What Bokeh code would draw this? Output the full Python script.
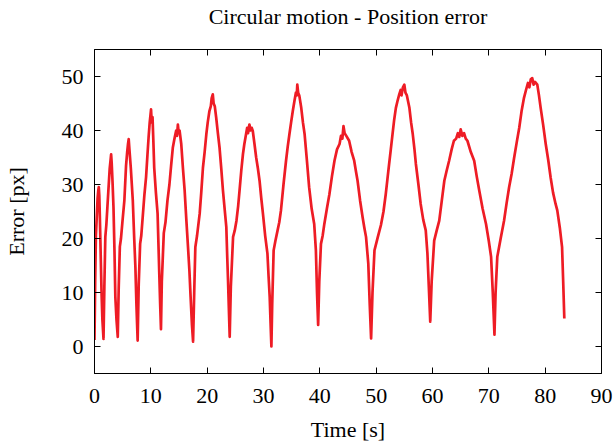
from bokeh.plotting import figure
from bokeh.models import LinearAxis, Range1d, FixedTicker
from bokeh.embed import file_html
from bokeh.resources import INLINE

title_text = "Circular motion - Position error"
x_label = "Time [s]"
y_label = "Error [px]"
x_ticks = [0, 10, 20, 30, 40, 50, 60, 70, 80, 90]
y_ticks = [0, 10, 20, 30, 40, 50]

time_s = [
    0.00, 0.12, 0.25, 0.40, 0.55, 0.68, 0.76, 0.85, 0.95, 1.10, 1.25, 1.40, 1.60,
    1.75, 1.92, 2.10, 2.30, 2.50, 2.70, 2.85, 2.95, 3.05, 3.20, 3.37, 3.55, 3.70, 3.90, 4.13,
    4.30, 4.50, 4.70, 4.95, 5.30, 5.60, 5.80, 5.95, 6.07, 6.20, 6.45, 6.80, 7.05, 7.26, 7.45, 7.66,
    7.85, 8.10, 8.30, 8.56, 8.85, 9.15, 9.40, 9.60, 9.80, 9.95, 10.04, 10.15, 10.30, 10.45, 10.60,
    10.90, 11.20, 11.35, 11.50, 11.65, 11.80,
    11.95, 12.30, 12.60, 12.95, 13.30, 13.60, 13.90, 14.20, 14.50, 14.65, 14.80, 14.95, 15.10,
    15.40, 15.70, 16.00, 16.30, 16.60, 16.85, 17.06, 17.30, 17.50,
    17.70, 17.90, 18.20, 18.67, 18.95, 19.25, 19.55, 19.85, 20.10, 20.40, 20.65, 20.80, 21.00,
    21.15, 21.35, 21.60, 21.90, 22.20, 22.50, 22.80, 23.10, 23.40, 23.55, 23.70, 23.85, 24.00,
    24.20, 24.60, 24.90, 25.20, 25.50, 25.75, 26.05, 26.35, 26.60, 26.90, 27.10, 27.25, 27.50,
    27.70, 27.90, 28.10, 28.40, 28.70, 29.00, 29.30, 29.60, 29.90, 30.30, 30.70, 30.90, 31.10,
    31.25, 31.40,
    31.55, 31.80, 32.10, 32.50, 32.80, 33.10, 33.55, 34.00, 34.30, 34.60, 34.90, 35.20, 35.50,
    35.75, 35.90, 36.00, 36.15, 36.35, 36.70, 37.00, 37.30, 37.70, 38.10, 38.55, 39.00, 39.30,
    39.50, 39.70,
    39.90, 40.20, 40.50, 40.80, 41.25, 41.70, 42.15, 42.60, 43.05, 43.50, 43.75, 44.00, 44.20,
    44.40, 44.70, 45.20, 45.65, 46.10, 46.40, 46.70, 47.15, 47.60, 47.90, 48.20, 48.60, 48.85,
    49.10,
    49.35, 49.70, 50.30, 50.85, 51.30, 51.70, 52.00, 52.30, 52.60, 52.90, 53.20, 53.50, 53.80,
    54.10, 54.35, 54.50, 54.75, 55.00, 55.20, 55.45, 55.90, 56.20, 56.50, 56.80, 57.05, 57.50,
    57.90, 58.35, 58.80, 59.10, 59.35, 59.60,
    59.85, 60.30, 60.75, 61.20, 61.65, 62.10, 62.50, 62.95, 63.40, 63.80, 64.20, 64.50, 64.75,
    65.00, 65.30, 65.60, 65.90, 66.20, 66.80, 67.40, 67.85, 68.30, 68.90, 69.50, 70.00, 70.40,
    70.70, 71.00,
    71.20, 71.50, 72.10, 72.70, 73.15, 73.60, 74.05, 74.50, 74.95, 75.40, 75.80, 76.25, 76.60,
    76.95, 77.20, 77.45, 77.70, 77.95, 78.20, 78.60, 78.90, 79.20, 79.65, 80.10, 80.55, 80.97,
    81.40, 81.85, 82.15, 82.60, 83.00, 83.20, 83.40,
]

error_px = [
    1.2, 12.0, 20.5, 24.0, 27.5, 29.0, 29.5, 28.0, 24.0, 17.0, 10.0, 5.0, 1.4,
    11.0, 20.3, 22.5, 26.0, 29.5, 33.0, 34.5, 35.6, 34.0, 30.5, 25.8, 17.5, 9.2, 5.0, 1.8,
    11.0, 18.5, 20.0, 23.0, 27.0, 33.5, 36.0, 37.5, 38.4, 36.5, 33.0, 27.0, 20.0, 14.7, 7.5, 1.1,
    11.5, 19.0, 20.5, 24.0, 28.0, 31.3, 35.5, 38.7, 41.5, 43.0, 43.9, 41.5, 42.5, 38.0, 33.1,
    28.5, 24.6, 19.0, 13.5, 8.0, 3.2,
    12.0, 21.0, 23.0, 27.0, 30.0, 33.5, 36.8, 38.5, 40.0, 39.0, 41.1, 39.5, 40.0,
    37.5, 33.0, 28.9, 23.5, 18.4, 14.0, 9.2, 4.0, 0.9,
    10.0, 18.4, 20.5, 24.6, 28.5, 33.1, 36.0, 39.3, 41.5, 43.6, 44.5, 46.0, 46.7,
    45.0, 44.5, 42.4, 39.5, 36.8, 33.0, 28.9, 25.5, 22.1, 17.0, 12.3, 7.0, 1.8,
    11.0, 20.3, 21.5, 23.3, 26.0, 28.9, 32.5, 35.6, 37.5, 39.3, 40.5, 39.5, 41.1,
    40.0, 40.5, 39.9, 37.5, 35.0, 33.0, 30.7, 27.5, 24.6, 20.5, 17.2, 13.0, 9.2,
    4.5, 0.0,
    8.0, 17.8, 19.5, 21.5, 23.0, 25.2, 30.0, 34.4, 37.0, 39.3, 41.5, 43.6, 45.5,
    47.0, 46.5, 48.5, 47.0, 46.5, 44.2, 41.5, 39.3, 34.5, 29.5, 25.5, 22.7, 17.8,
    10.0, 4.0,
    12.0, 19.0, 20.5, 22.7, 25.5, 28.2, 31.5, 34.4, 36.5, 37.5, 39.0, 38.5, 40.8,
    39.5, 39.0, 38.1, 36.0, 34.4, 32.5, 30.7, 27.0, 23.9, 22.0, 20.3, 15.4, 8.0,
    1.5,
    10.0, 17.8, 20.3, 22.5, 25.0, 28.2, 31.0, 33.8, 36.5, 39.3, 42.0, 44.2, 45.5,
    46.7, 47.5, 46.5, 48.0, 48.5, 47.0, 46.5, 44.2, 41.5, 39.3, 36.5, 33.8, 30.0,
    26.4, 23.5, 21.5, 17.2, 11.0, 4.6,
    12.0, 19.6, 21.5, 23.3, 27.0, 30.7, 32.5, 34.4, 36.5, 38.1, 38.5, 39.5, 38.8,
    40.2, 39.0, 39.5, 38.5, 38.1, 36.0, 34.4, 31.5, 28.9, 25.5, 22.7, 19.5, 16.6,
    10.0, 2.2,
    10.0, 16.6, 20.0, 23.3, 26.5, 29.5, 32.0, 35.0, 37.8, 40.5, 43.5, 46.1, 47.5,
    48.8, 48.0, 49.5, 49.7, 48.5, 49.0, 48.5, 46.5, 44.2, 41.0, 37.5, 34.5, 31.3,
    28.5, 26.4, 25.2, 22.0, 18.4, 12.0, 5.2,
]

FONT = "Liberation Serif"

p = figure(width=616, height=444, output_backend="svg", toolbar_location=None,
           x_range=Range1d(0, 90), y_range=Range1d(-5, 55),
           min_border_left=93, min_border_right=15, min_border_top=48, min_border_bottom=71)

p.line(time_s, error_px, line_color="#ee1c25", line_width=2.7, line_join="round")

p.grid.visible = False
p.outline_line_color = "black"
p.outline_line_width = 1
p.background_fill_color = "white"
p.border_fill_color = "white"

xa = p.xaxis[0]
ya = p.yaxis[0]
xa.ticker = FixedTicker(ticks=x_ticks)
ya.ticker = FixedTicker(ticks=y_ticks)
xa.axis_label = x_label
ya.axis_label = y_label
for ax in (xa, ya):
    ax.axis_label_text_font = FONT
    ax.axis_label_text_font_size = "22px"
    ax.axis_label_text_font_style = "normal"
    ax.axis_label_text_color = "black"
    ax.major_label_text_font = FONT
    ax.major_label_text_font_size = "22px"
    ax.major_label_text_color = "black"
    ax.major_tick_in = 6
    ax.major_tick_out = 0
    ax.minor_tick_line_color = None
    ax.axis_line_color = "black"
xa.major_label_standoff = 15
ya.major_label_standoff = 11
xa.axis_label_standoff = 11
ya.axis_label_standoff = 30

xt = LinearAxis(ticker=FixedTicker(ticks=x_ticks))
yr = LinearAxis(ticker=FixedTicker(ticks=y_ticks))
for ax in (xt, yr):
    ax.major_label_text_font_size = "0px"
    ax.major_label_text_color = None
    ax.major_label_standoff = 0
    ax.major_tick_in = 6
    ax.major_tick_out = 0
    ax.minor_tick_line_color = None
    ax.axis_line_color = None

# chart title, centred over the frame on the mirrored top axis
xt.axis_label = title_text
xt.axis_label_text_font = FONT
xt.axis_label_text_font_size = "22px"
xt.axis_label_text_font_style = "normal"
xt.axis_label_text_color = "black"
xt.axis_label_standoff = 21
p.add_layout(xt, "above")
p.add_layout(yr, "right")

open("out.html", "w").write(file_html(p, INLINE))
